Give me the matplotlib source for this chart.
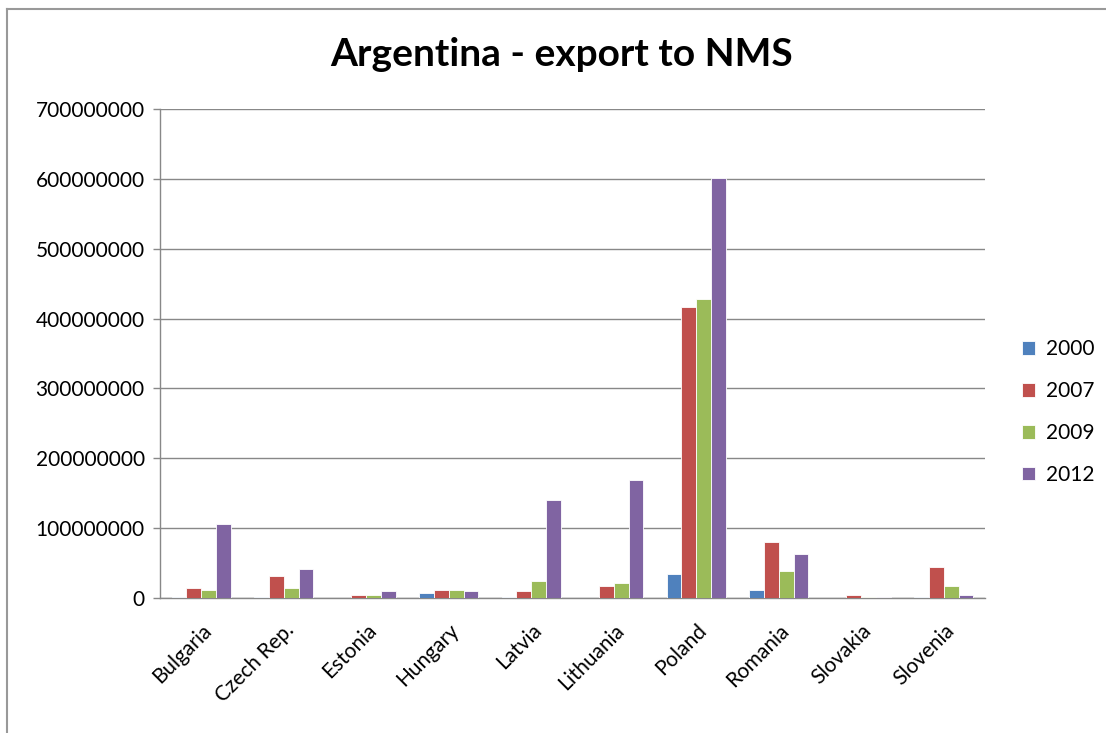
import matplotlib
matplotlib.use("Agg")
import matplotlib.pyplot as plt
import numpy as np
from matplotlib.lines import Line2D

countries = ["Bulgaria", "Czech Rep.", "Estonia", "Hungary", "Latvia",
             "Lithuania", "Poland", "Romania", "Slovakia", "Slovenia"]
years = ["2000", "2007", "2009", "2012"]
v2000 = [1.0e6, 1.0e6, 0.5e6, 7e6, 1.0e6, 0.5e6, 35e6, 12e6, 0.5e6, 1.0e6]
v2007 = [15e6, 32e6, 4e6, 12e6, 10e6, 17e6, 416e6, 80e6, 4e6, 45e6]
v2009 = [12e6, 15e6, 4e6, 12e6, 25e6, 22e6, 428e6, 38e6, 1.0e6, 17e6]
v2012 = [106e6, 42e6, 10e6, 10e6, 140e6, 169e6, 601e6, 63e6, 1.0e6, 4e6]
series = [v2000, v2007, v2009, v2012]
colors = ["#4F81BD", "#C0504D", "#9BBB59", "#8064A2"]
yticks = [0, 100000000, 200000000, 300000000, 400000000, 500000000, 600000000, 700000000]

plt.rcParams['font.family'] = ['Lato', 'DejaVu Sans']

fig = plt.figure(figsize=(11.06, 7.33), dpi=100)
ax = fig.add_axes([160/1106, 1 - 598/733, 825/1106, 489/733])

n = len(countries)
x = np.arange(n)
w = 0.18
for i, (vals, c, yr) in enumerate(zip(series, colors, years)):
    ax.bar(x + (i - 1.5) * w, vals, width=w, color=c, edgecolor="white",
           linewidth=0.6, label=yr, zorder=3)

ax.set_xlim(-0.5, n - 0.5)
ax.set_ylim(0, 700000000)
ax.set_yticks(yticks)
ax.set_yticklabels([str(t) for t in yticks], fontsize=15)
ax.yaxis.grid(True, color="#888888", linewidth=1.0, zorder=0)
ax.set_axisbelow(True)

ax.set_xticks(x)
ax.set_xticklabels(countries, rotation=45, ha="right", rotation_mode="anchor", fontsize=15)
ax.tick_params(axis="x", length=0, pad=16)
ax.tick_params(axis="y", length=5, color="#888888", width=1, pad=6)

for s in ["top", "right"]:
    ax.spines[s].set_visible(False)
for s in ["left", "bottom"]:
    ax.spines[s].set_color("#888888")
    ax.spines[s].set_linewidth(1.0)

fig.text(562/1106, 1 - 55/733, "Argentina - export to NMS", ha="center", va="center",
         fontsize=28, fontweight="bold")

leg = fig.legend(loc="center left", bbox_to_anchor=(1003/1106, 1 - 412/733),
                 frameon=False, fontsize=15, handlelength=0.65, handleheight=0.65,
                 labelspacing=1.05, handletextpad=0.5)

fig.add_artist(Line2D([7/1106, 7/1106], [0, 1 - 9/733], transform=fig.transFigure,
                      color="#999999", linewidth=1.5))
fig.add_artist(Line2D([7/1106, 1], [1 - 9/733, 1 - 9/733], transform=fig.transFigure,
                      color="#999999", linewidth=1.5))

fig.savefig("out.png", dpi=100)
